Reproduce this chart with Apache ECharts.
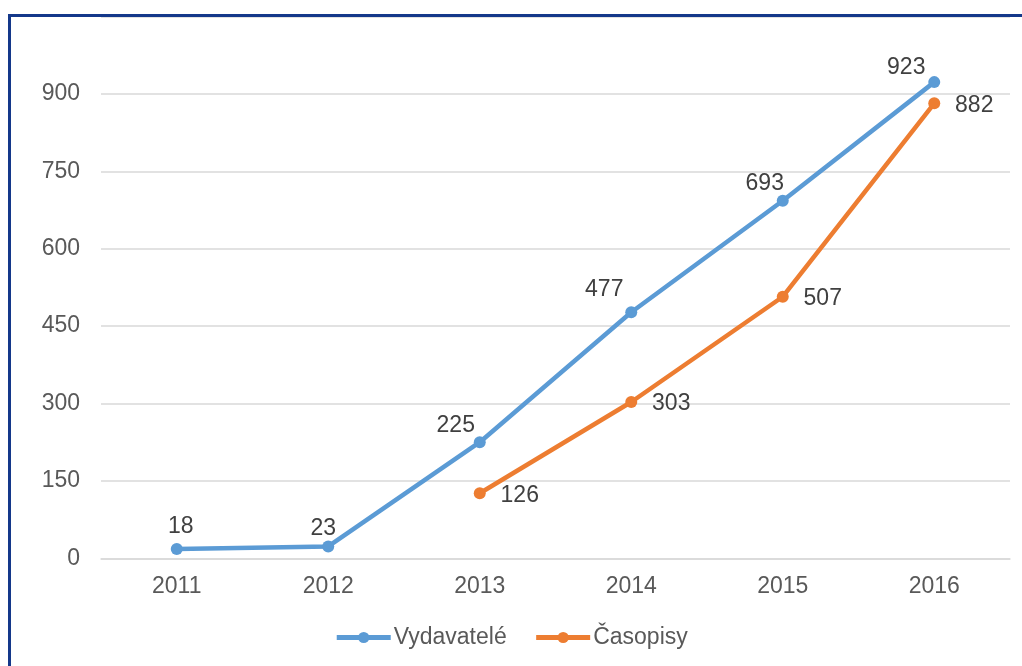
<!DOCTYPE html>
<html>
<head>
<meta charset="utf-8">
<style>html,body{margin:0;padding:0;background:#fff;}#c{width:1022px;height:666px;}</style>
<script src="https://cdn.jsdelivr.net/npm/echarts@6/dist/echarts.min.js"></script>
</head>
<body>
<div id="c"></div>
<script>
var categories = ['2011', '2012', '2013', '2014', '2015', '2016'];
var vydavatele = [18, 23, 225, 477, 693, 923];
var casopisy = [null, null, 126, 303, 507, 882];
var seriesNames = ['Vydavatelé', 'Časopisy'];

var blueOffsets = [[4, -22], [-5, -18], [-24, -17], [-27, -23], [-18, -17], [-28, -14]];

var chart = echarts.init(document.getElementById('c'), null, {renderer: 'canvas'});
var font = 'Liberation Sans, Arial, sans-serif';
var txt = '#595959';

chart.setOption({
  animation: false,
  backgroundColor: '#fff',
  grid: {left: 101, right: 12, top: 16.6, bottom: 107.7, containLabel: false},
  xAxis: {
    type: 'category',
    data: categories,
    boundaryGap: true,
    axisLine: {show: true, lineStyle: {color: '#d9d9d9', width: 1.5}},
    axisTick: {show: false},
    axisLabel: {color: txt, fontSize: 23, fontFamily: font, margin: 17}
  },
  yAxis: {
    type: 'value',
    min: 0, max: 1050, interval: 150,
    axisLine: {show: false},
    axisTick: {show: false},
    axisLabel: {color: txt, fontSize: 23, fontFamily: font, margin: 21, showMaxLabel: false},
    splitLine: {lineStyle: {color: '#d9d9d9', width: 1.5}}
  },
  legend: {
    bottom: 12, left: 'center',
    itemWidth: 54, itemHeight: 14, itemGap: 27,
    lineStyle: {width: 5},
    textStyle: {color: txt, fontSize: 23, fontFamily: font, padding: [0, 0, 0, -2]},
    data: seriesNames
  },
  series: [
    {
      name: seriesNames[0], type: 'line',
      data: vydavatele.map(function (v, i) {
        return {value: v, label: {offset: blueOffsets[i]}};
      }),
      color: '#5B9BD5',
      lineStyle: {width: 4.5, color: '#5B9BD5'},
      symbol: 'circle', symbolSize: 12,
      itemStyle: {color: '#5B9BD5'},
      label: {show: true, position: 'inside', align: 'center', verticalAlign: 'middle', color: '#404040', fontSize: 23, fontFamily: font},
      z: 3
    },
    {
      name: seriesNames[1], type: 'line',
      data: casopisy,
      color: '#ED7D31',
      lineStyle: {width: 4.5, color: '#ED7D31'},
      symbol: 'circle', symbolSize: 12,
      itemStyle: {color: '#ED7D31'},
      label: {show: true, position: 'inside', align: 'center', verticalAlign: 'middle', offset: [40, 2], color: '#404040', fontSize: 23, fontFamily: font},
      z: 4
    }
  ],
  graphic: [{
    type: 'rect', z: 100,
    shape: {x: 9.5, y: 15.5, width: 1100, height: 800},
    style: {fill: 'none', stroke: '#14388a', lineWidth: 3}
  }]
});
</script>
</body>
</html>
